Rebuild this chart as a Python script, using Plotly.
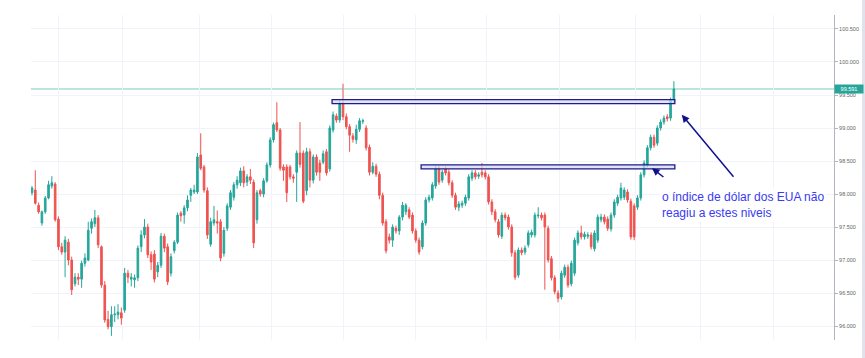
import plotly.graph_objects as go

# ---- data (price per candle, in candle order) ----
opens = [98.02, 98.06, 97.83, 97.56, 97.73, 97.94, 98.12, 98.15, 97.62, 97.20,
         97.12, 97.27, 97.00, 96.64, 96.74, 96.71, 96.95, 97.00, 97.48, 97.55,
         97.64, 97.20, 96.62, 96.10, 95.99, 96.17, 96.17, 96.20, 96.24, 96.80,
         96.71, 96.70, 96.73, 97.20, 97.38, 97.50, 97.08, 97.09, 96.82, 96.92,
         97.36, 97.20, 96.80, 97.14, 97.27, 97.71, 97.68, 97.79, 97.98, 98.03,
         98.03, 98.59, 98.41, 98.05, 97.24, 97.56, 97.58, 97.58, 97.10, 97.48,
         97.80, 97.95, 98.14, 98.17, 98.35, 98.18, 98.26, 98.18, 97.61, 98.05,
         98.00, 98.20, 98.44, 98.82, 99.08, 98.97, 98.41, 98.41, 98.41, 98.26,
         98.33, 98.62, 98.62, 98.05, 98.64, 98.21, 98.56, 98.47, 98.48, 98.64,
         98.38, 98.97, 99.18, 99.12, 99.38, 99.17, 99.02, 98.88, 98.82, 98.98,
         99.10, 99.00, 98.71, 98.33, 98.42, 98.30, 97.98, 97.58, 97.35, 97.30,
         97.48, 97.44, 97.65, 97.73, 97.76, 97.68, 97.44, 97.30, 97.20, 97.56,
         97.91, 97.94, 98.12, 98.39, 98.21, 98.38, 98.33, 98.17, 97.98, 97.80,
         97.83, 97.86, 97.94, 98.24, 98.32, 98.27, 98.33, 98.32, 98.26, 97.88,
         97.73, 97.58, 97.36, 97.68, 97.65, 97.50, 97.11, 96.77, 97.15, 97.12,
         97.23, 97.38, 97.38, 97.67, 97.68, 97.68, 97.48, 97.02, 96.73, 96.50,
         96.44, 96.77, 96.89, 96.64, 96.80, 97.26, 97.41, 97.35, 97.36, 97.38,
         97.17, 97.30, 97.61, 97.65, 97.62, 97.47, 97.68, 97.86, 97.94, 97.95,
         98.03, 97.89, 97.82, 97.80, 97.94, 98.29, 98.44, 98.70, 98.86, 98.77,
         99.00, 99.09, 99.17, 99.15, 99.42]

highs = [98.12, 98.36, 97.87, 97.75, 97.97, 98.20, 98.27, 98.18, 97.66, 97.26,
         97.36, 97.32, 97.05, 96.80, 96.80, 96.99, 97.10, 97.58, 97.63, 97.76,
         97.68, 97.22, 96.68, 96.23, 96.30, 96.30, 96.33, 96.28, 96.88, 96.85,
         96.80, 96.78, 97.22, 97.45, 97.62, 97.55, 97.13, 97.15, 96.97, 97.41,
         97.40, 97.25, 97.10, 97.30, 97.72, 97.74, 97.83, 97.98, 98.09, 98.14,
         98.62, 98.92, 98.44, 98.10, 97.64, 97.82, 97.75, 97.62, 97.50, 97.86,
         98.06, 98.18, 98.27, 98.40, 98.42, 98.30, 98.38, 98.22, 98.06, 98.08,
         98.24, 98.48, 98.86, 99.08, 99.39, 99.00, 98.45, 98.45, 98.44, 98.30,
         98.66, 99.09, 98.66, 98.70, 98.69, 98.60, 98.60, 98.52, 98.66, 98.68,
         99.04, 99.25, 99.22, 99.42, 99.67, 99.22, 99.06, 98.92, 99.05, 99.15,
         99.14, 99.04, 98.75, 98.48, 98.46, 98.34, 98.02, 97.62, 97.40, 97.54,
         97.52, 97.68, 97.88, 97.86, 97.80, 97.72, 97.48, 97.34, 97.60, 97.95,
         97.99, 98.18, 98.43, 98.43, 98.37, 98.42, 98.37, 98.21, 98.02, 97.89,
         97.90, 97.99, 98.30, 98.36, 98.36, 98.33, 98.47, 98.36, 98.30, 97.92,
         97.77, 97.62, 97.72, 97.72, 97.69, 97.54, 97.15, 97.19, 97.19, 97.22,
         97.45, 97.46, 97.72, 97.80, 97.72, 97.72, 97.52, 97.06, 96.77, 96.54,
         96.84, 96.93, 96.93, 96.99, 97.34, 97.45, 97.52, 97.43, 97.42, 97.42,
         97.45, 97.69, 97.70, 97.69, 97.66, 97.72, 97.92, 97.99, 98.17, 98.10,
         98.07, 97.93, 97.86, 97.98, 98.33, 98.51, 98.74, 98.90, 98.90, 99.04,
         99.13, 99.19, 99.21, 99.46, 99.71]

lows = [97.98, 97.84, 97.70, 97.52, 97.70, 97.92, 98.08, 97.58, 97.15, 97.08,
        96.74, 96.92, 96.47, 96.60, 96.62, 96.58, 96.90, 96.98, 97.40, 97.50,
        97.18, 96.58, 96.05, 95.95, 95.85, 96.06, 96.10, 96.02, 96.20, 96.65,
        96.60, 96.58, 96.68, 97.12, 97.33, 97.03, 96.85, 96.66, 96.74, 96.88,
        97.12, 96.62, 96.75, 97.10, 97.24, 97.58, 97.55, 97.74, 97.88, 98.00,
        98.00, 98.36, 98.02, 97.32, 97.20, 97.52, 97.40, 96.98, 97.05, 97.44,
        97.76, 97.90, 98.08, 98.12, 98.10, 98.12, 98.15, 97.18, 97.55, 97.96,
        97.95, 98.17, 98.40, 98.78, 98.94, 98.35, 98.20, 97.88, 98.22, 98.17,
        97.88, 98.40, 97.86, 97.98, 98.10, 98.16, 98.28, 98.20, 98.45, 98.28,
        98.34, 98.93, 99.08, 99.08, 99.12, 98.98, 98.64, 98.78, 98.76, 98.94,
        99.06, 98.66, 98.28, 98.30, 98.26, 97.92, 97.52, 97.10, 97.25, 97.20,
        97.40, 97.38, 97.60, 97.68, 97.62, 97.40, 97.26, 97.08, 97.16, 97.52,
        97.87, 97.90, 98.08, 98.14, 98.17, 98.28, 98.13, 97.94, 97.76, 97.74,
        97.79, 97.82, 97.90, 98.20, 98.22, 98.23, 98.25, 98.22, 97.84, 97.68,
        97.57, 97.34, 97.32, 97.60, 97.46, 97.05, 96.70, 96.73, 97.07, 97.08,
        97.19, 97.34, 97.34, 97.63, 97.60, 96.55, 96.96, 96.69, 96.48, 96.36,
        96.40, 96.73, 96.58, 96.60, 96.76, 97.22, 97.31, 97.31, 97.32, 97.16,
        97.13, 97.26, 97.57, 97.54, 97.44, 97.43, 97.64, 97.82, 97.90, 97.91,
        97.87, 97.31, 97.30, 97.76, 97.90, 98.25, 98.40, 98.66, 98.70, 98.73,
        98.96, 99.05, 99.10, 99.11, 99.38]

closes = [98.09, 97.86, 97.73, 97.73, 97.94, 98.14, 98.17, 97.61, 97.20, 97.12,
          97.30, 97.00, 96.55, 96.74, 96.71, 96.95, 97.03, 97.45, 97.58, 97.64,
          97.23, 96.62, 96.09, 95.99, 96.17, 96.18, 96.21, 96.12, 96.80, 96.74,
          96.74, 96.73, 97.18, 97.38, 97.50, 97.08, 96.97, 96.71, 96.92, 97.36,
          97.18, 96.67, 97.05, 97.27, 97.68, 97.67, 97.79, 97.91, 98.06, 98.06,
          98.56, 98.39, 98.06, 97.38, 97.58, 97.61, 97.56, 97.03, 97.45, 97.82,
          98.02, 98.14, 98.21, 98.35, 98.17, 98.26, 98.21, 97.26, 98.02, 98.00,
          98.20, 98.44, 98.82, 99.05, 98.97, 98.39, 98.36, 98.02, 98.26, 98.24,
          98.62, 98.45, 97.89, 98.64, 98.21, 98.56, 98.33, 98.33, 98.61, 98.32,
          99.00, 99.20, 99.12, 99.38, 99.17, 99.02, 98.89, 98.83, 98.98, 99.11,
          99.11, 98.70, 98.33, 98.42, 98.30, 97.98, 97.56, 97.14, 97.30, 97.50,
          97.44, 97.65, 97.83, 97.83, 97.65, 97.44, 97.30, 97.12, 97.56, 97.91,
          97.95, 98.14, 98.39, 98.18, 98.33, 98.32, 98.17, 97.98, 97.80, 97.85,
          97.86, 97.95, 98.26, 98.32, 98.26, 98.29, 98.29, 98.26, 97.88, 97.73,
          97.61, 97.38, 97.68, 97.64, 97.50, 97.11, 96.74, 97.15, 97.11, 97.18,
          97.41, 97.42, 97.68, 97.68, 97.64, 97.50, 97.00, 96.73, 96.52, 96.42,
          96.80, 96.89, 96.62, 96.95, 97.30, 97.41, 97.35, 97.39, 97.38, 97.20,
          97.41, 97.65, 97.65, 97.58, 97.48, 97.68, 97.88, 97.95, 98.09, 98.06,
          97.91, 97.35, 97.35, 97.94, 98.29, 98.47, 98.70, 98.86, 98.74, 99.00,
          99.09, 99.15, 99.14, 99.42, 99.591]

candle_idx = list(range(len(closes)))
last_price = 99.591

# price ticks on the right axis
price_ticks = [96.0, 96.5, 97.0, 97.5, 98.0, 98.5, 99.0, 99.5, 100.0, 100.5]
# vertical grid positions (candle index)
grid_x = [8, 27.5, 50.5, 72.5, 94, 116, 137.5, 159.5, 182.5, 202, 224]

# resistance zones drawn on the chart
zone_start = [90.7, 117.6]
zone_end = [194.3, 194.3]
zone_low = [99.37, 98.38]
zone_high = [99.43, 98.44]

note_text = "o índice de dólar dos EUA não<br>reagiu a estes niveis"

GREEN = "#26a69a"
RED = "#ef5350"
GRID = "#f0f3fa"
NAVY = "#1c1c8a"

fig = go.Figure()
fig.add_trace(go.Candlestick(
    x=candle_idx, open=opens, high=highs, low=lows, close=closes,
    increasing=dict(line=dict(color=GREEN, width=1), fillcolor=GREEN),
    decreasing=dict(line=dict(color=RED, width=1), fillcolor=RED),
    whiskerwidth=0, showlegend=False, hoverinfo="skip",
))

shapes = []
# last price line
shapes.append(dict(type="line", xref="paper", x0=0, x1=1, yref="y",
                   y0=last_price, y1=last_price,
                   line=dict(color=GREEN, width=1), opacity=0.6, layer="below"))
for xs, xe, lo, hi in zip(zone_start, zone_end, zone_low, zone_high):
    shapes.append(dict(type="rect", xref="x", yref="y", x0=xs, x1=xe, y0=lo, y1=hi,
                       line=dict(color=NAVY, width=1.3),
                       fillcolor="rgba(215,215,245,0.7)", layer="above"))
# right border band
shapes.append(dict(type="rect", xref="paper", yref="paper",
                   x0=1.0349, x1=1.045, y0=-0.06, y1=1.05,
                   line=dict(width=0), fillcolor="#e0e3eb"))

annotations = [
    dict(x=196.4, y=99.20, ax=212.4, ay=98.24, xref="x", yref="y",
         axref="x", ayref="y", text="", showarrow=True, arrowhead=2,
         arrowsize=1, arrowwidth=1.5, arrowcolor="#10108f"),
    dict(x=187.4, y=98.39, ax=191.3, ay=98.24, xref="x", yref="y",
         axref="x", ayref="y", text="", showarrow=True, arrowhead=2,
         arrowsize=1, arrowwidth=1.5, arrowcolor="#10108f"),
    dict(x=189.8, y=97.84, xref="x", yref="y", text=note_text, showarrow=False,
         xanchor="left", yanchor="middle", align="left", bgcolor="white",
         font=dict(family="Liberation Sans, Arial, sans-serif", size=12,
                   color="#3a3af2")),
    dict(x=1, y=last_price, xref="paper", yref="y", text="99.591",
         showarrow=False, xanchor="left", yanchor="middle", bgcolor=GREEN,
         width=26, borderpad=1,
         font=dict(family="Liberation Sans, Arial, sans-serif", size=5.5,
                   color="white")),
]

fig.update_layout(
    width=865, height=358,
    margin=dict(l=31, r=31, t=15, b=18),
    paper_bgcolor="white", plot_bgcolor="white",
    shapes=shapes, annotations=annotations,
    xaxis=dict(range=[-0.3, 242.4], rangeslider=dict(visible=False),
               tickvals=grid_x, showticklabels=False, showgrid=True,
               gridcolor=GRID, zeroline=False, ticks="", fixedrange=True,
               automargin=False),
    yaxis=dict(side="right", range=[95.788, 100.712], tickvals=price_ticks,
               tickformat=".3f", showgrid=True, gridcolor=GRID,
               zeroline=False, showline=True, linecolor="#b2b5be", linewidth=1,
               ticks="outside", ticklen=3, tickcolor="#b2b5be", automargin=False,
               tickfont=dict(family="Liberation Sans, Arial, sans-serif",
                             size=5.5, color="#666666")),
)

fig.write_html("out.html",
               config={"displayModeBar": False},
               post_script="document.body.style.margin='0';"
                           "document.body.style.overflow='hidden';")
